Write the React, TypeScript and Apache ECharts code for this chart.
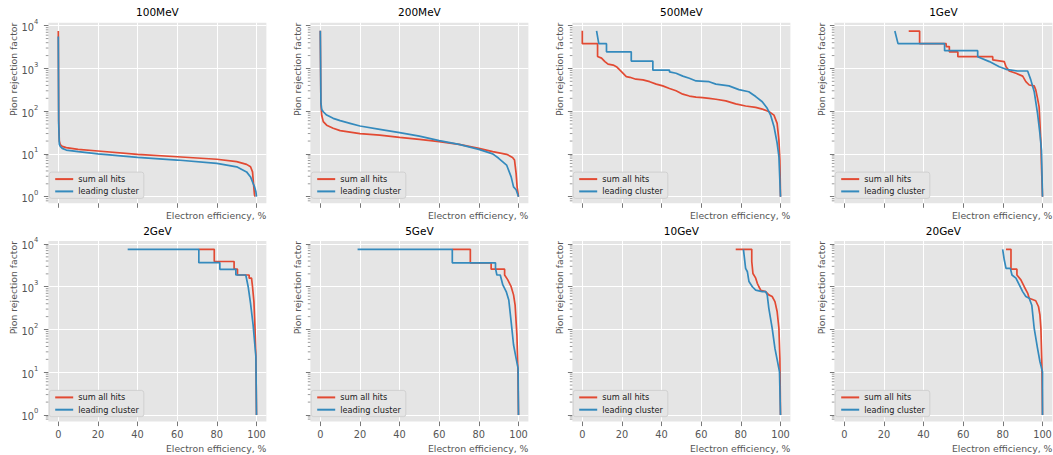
import React, { useEffect, useRef } from "react";
import * as echarts from "echarts";

// ---------- data ----------
const panelTitles = ["100MeV", "200MeV", "500MeV", "1GeV", "2GeV", "5GeV", "10GeV", "20GeV"];
const seriesNames = ["sum all hits", "leading cluster"];
const xTickValues = [0, 20, 40, 60, 80, 100];
const yTickExponents = [0, 1, 2, 3, 4];
const xAxisName = "Electron efficiency, %";
const yAxisName = "Pion rejection factor";

// [electron efficiency %, pion rejection factor]
const sum100MeV = [[0, 7500], [0.2, 60], [0.5, 20], [1, 16.5], [2, 15], [4, 14], [10, 12.8], [20, 11.7], [40, 9.8], [60, 8.6], [80, 7.5], [90, 6.6], [95, 5.7], [97, 5.0], [98, 3.8], [98.5, 2.0], [99, 1.1], [99.2, 1.0]];
const lead100MeV = [[0, 5600], [0.2, 50], [0.5, 17], [1, 15], [2, 13.5], [4, 12.3], [10, 11.3], [20, 10], [40, 8.3], [60, 7.2], [80, 6.0], [90, 5.0], [95, 3.8], [97, 2.9], [98, 2.2], [99, 1.7], [99.7, 1.3], [100, 1.0]];

const sum200MeV = [[0, 7600], [0.3, 150], [0.7, 80], [1.5, 57], [3.2, 47], [6.5, 40], [10, 35], [20, 30], [30, 27.5], [40, 24.5], [50, 22], [60, 19.4], [70, 16.7], [80, 13.5], [87, 11.3], [94, 9.8], [97, 8.3], [98, 7.2], [98.8, 3.5], [99.3, 1.7], [100, 1.0]];
const lead200MeV = [[0, 7600], [0.3, 160], [0.7, 110], [1.5, 97], [3.2, 81], [6.5, 68], [10, 60], [15, 52], [20, 45], [30, 37.6], [40, 31.5], [50, 26], [60, 20.4], [70, 16.7], [80, 12.8], [87, 10], [90, 7.9], [94, 5.5], [96.3, 2.9], [97.5, 1.7], [98.8, 1.45], [100, 1.0]];

const sum500MeV = [[0, 7600], [0, 3800], [7.7, 3800], [7.7, 1900], [9.7, 1740], [11.4, 1440], [13, 1260], [15.6, 1200], [17.2, 1100], [19, 910], [20.6, 770], [22.2, 645], [24, 620], [27, 560], [30.6, 540], [34, 490], [37.3, 430], [40.6, 390], [44, 340], [47.3, 300], [50.7, 250], [54, 226], [57.4, 214], [60.7, 207], [64, 200], [67.4, 190], [72.4, 174], [77.4, 148], [82.4, 132], [87.5, 123], [90.8, 112], [94.1, 98], [96.7, 81], [98.3, 52], [99.2, 21], [99.7, 7.2], [100, 1.0]];
const lead500MeV = [[7.2, 7600], [8.3, 3800], [12.2, 3800], [12.2, 2450], [24.7, 2450], [24.7, 1490], [35.6, 1490], [35.6, 910], [44, 910], [44, 830], [47.3, 770], [50.7, 660], [54, 590], [57.4, 510], [64, 490], [67.4, 430], [74, 390], [79, 320], [84, 285], [87.5, 220], [90.8, 166], [93.3, 117], [95, 81], [96.7, 44], [98.3, 18], [99.2, 8.7], [100, 1.0]];

const sum1GeV = [[32.5, 7500], [38, 7500], [38, 3800], [51.4, 3800], [51.4, 3240], [53, 3240], [53, 2450], [57.3, 2450], [57.3, 1880], [74.9, 1880], [74.9, 1580], [80.7, 1445], [81.6, 1100], [83.2, 870], [86.6, 770], [90, 660], [91.6, 490], [93.3, 410], [95.8, 390], [96.6, 316], [97.5, 200], [98.3, 126], [99.2, 18], [99.5, 5], [100, 1.0]];
const lead1GeV = [[25.5, 7500], [27.1, 3800], [50.6, 3800], [50.6, 2600], [67.3, 2600], [67.3, 1880], [73.2, 1445], [78.2, 1100], [81.6, 955], [87.4, 870], [92.5, 870], [94.1, 540], [95.8, 290], [97.5, 89], [98.7, 30], [99.5, 12], [100, 1.0]];

const sum2GeV = [[70.9, 7500], [78.7, 7500], [78.7, 3890], [88.7, 3890], [88.7, 2570], [90.4, 2570], [90.4, 1880], [96.3, 1880], [96.3, 1585], [97.5, 1585], [98, 1000], [98.7, 450], [99.2, 126], [99.7, 25], [100, 1.0]];
const lead2GeV = [[35, 7500], [70.9, 7500], [70.9, 3650], [81.5, 3650], [81.5, 2560], [89.6, 2560], [89.6, 1880], [94.6, 1880], [95.8, 1000], [97, 410], [98.3, 126], [99.7, 23], [100, 1.0]];

const sum5GeV = [[66.6, 7500], [75.7, 7500], [75.7, 3630], [86.2, 3630], [86.2, 2570], [93, 2570], [93, 1880], [94.6, 1445], [96.3, 1000], [97.5, 645], [98.3, 370], [99.2, 74], [99.7, 12.3], [100, 1.0]];
const lead5GeV = [[18.8, 7500], [66.6, 7500], [66.6, 3630], [88.4, 3630], [88.4, 2690], [89.1, 1880], [90.8, 1880], [92.1, 1100], [93.8, 770], [95.1, 490], [96.3, 150], [97.5, 44], [98.8, 21], [99.8, 12.3], [100, 1.0]];

const sum10GeV = [[77.4, 7500], [85.5, 7500], [85.5, 3890], [86.1, 2040], [87.5, 1585], [88.3, 1200], [89.1, 1000], [90, 830], [92.5, 770], [94.1, 645], [95.8, 590], [97.2, 450], [98.3, 263], [99.2, 107], [99.7, 21], [100, 1.0]];
const lead10GeV = [[81.3, 7500], [82.4, 2690], [83.3, 2240], [84.1, 1320], [85.8, 1000], [87.5, 830], [90.8, 770], [92.5, 770], [93.3, 645], [94.1, 316], [95.8, 107], [97.2, 36], [98.8, 15], [99.5, 10.2], [100, 1.0]];

const sum20GeV = [[81.6, 7500], [84.1, 7500], [84.1, 2570], [87.1, 2570], [87.1, 1880], [89.1, 1445], [90.8, 1000], [92.5, 710], [93.3, 540], [96.6, 470], [98, 340], [98.7, 220], [99.2, 107], [99.7, 14.8], [100, 1.0]];
const lead20GeV = [[79.9, 7500], [80.7, 4270], [81.6, 2690], [83.8, 2690], [84.6, 1880], [86.6, 1585], [88.3, 1100], [90, 770], [91.6, 590], [93.3, 540], [94.6, 370], [95.8, 107], [97.5, 36], [98.7, 17.8], [100, 10.2], [100, 1.0]];

const sumSeries = [sum100MeV, sum200MeV, sum500MeV, sum1GeV, sum2GeV, sum5GeV, sum10GeV, sum20GeV];
const leadSeries = [lead100MeV, lead200MeV, lead500MeV, lead1GeV, lead2GeV, lead5GeV, lead10GeV, lead20GeV];

// ---------- layout / style ----------
const COL_LEFT = [48.4, 310.4, 572.4, 834.4];
const ROW_TOP = [22.7, 241.0];
const PW = 218;
const PH = 180.6;
const X_MIN = -5;
const X_MAX = 105;
const Y_MIN = -0.155; // log10 units
const Y_MAX = 4.07;
const RED = "#E24A33";
const BLUE = "#348ABD";
const FONT = "DejaVu Sans";
const TICK_COLOR = "#555555";

function buildOption() {
  const grid: any[] = [];
  const xAxis: any[] = [];
  const yAxis: any[] = [];
  const series: any[] = [];
  const legend: any[] = [];
  const graphic: any[] = [];

  const minorVals: number[][] = [];
  for (let n = -1; n <= 3; n++) {
    for (let k = 2; k <= 9; k++) {
      const v = n + Math.log10(k);
      if (v > Y_MIN + 0.005 && v < Y_MAX) minorVals.push([X_MIN, v]);
    }
  }

  for (let i = 0; i < 8; i++) {
    const col = i % 4;
    const row = Math.floor(i / 4);
    const left = COL_LEFT[col];
    const top = ROW_TOP[row];
    grid.push({
      left,
      top,
      width: PW,
      height: PH,
      show: true,
      backgroundColor: "#E5E5E5",
      borderWidth: 0,
      containLabel: false,
      outerBoundsMode: "none",
    });
    xAxis.push({
      gridIndex: i,
      type: "value",
      min: X_MIN,
      max: X_MAX,
      axisLine: { show: false, onZero: false },
      axisTick: { show: true, customValues: xTickValues, length: 4.5, lineStyle: { color: TICK_COLOR, width: 0.8 } },
      axisLabel: {
        show: row === 1,
        customValues: xTickValues,
        color: TICK_COLOR,
        fontSize: 9.8,
        fontFamily: FONT,
        margin: 8,
      },
      splitLine: { show: true, lineStyle: { color: "#FFFFFF", width: 1 } },
      name: xAxisName,
      nameLocation: "end",
      nameGap: 0,
      nameMoveOverlap: false,
      nameTextStyle: {
        align: "right",
        verticalAlign: "top",
        fontSize: 9.3,
        fontFamily: FONT,
        color: TICK_COLOR,
        padding: [row === 0 ? 8 : 22, 0, 0, 0],
      },
    });
    yAxis.push({
      gridIndex: i,
      type: "value",
      min: Y_MIN,
      max: Y_MAX,
      axisLine: { show: false, onZero: false },
      axisTick: { show: true, customValues: yTickExponents, length: 4.5, lineStyle: { color: TICK_COLOR, width: 0.8 } },
      axisLabel: {
        show: col === 0,
        customValues: yTickExponents,
        margin: 10,
        formatter: (v: number) => `{b|10}{s|${Math.round(v)}}`,
        rich: {
          b: { fontSize: 9.8, fontFamily: FONT, color: TICK_COLOR, lineHeight: 14, verticalAlign: "bottom" },
          s: { fontSize: 6.8, fontFamily: FONT, color: TICK_COLOR, verticalAlign: "top", lineHeight: 8 },
        },
      },
      splitLine: { show: true, lineStyle: { color: "#FFFFFF", width: 1 } },
      name: yAxisName,
      nameLocation: "end",
      nameRotate: 90,
      nameGap: 0,
      nameMoveOverlap: false,
      nameTextStyle: {
        align: "right",
        verticalAlign: "bottom",
        fontSize: 9.3,
        fontFamily: FONT,
        color: TICK_COLOR,
        padding: [0, 0, col === 0 ? 30 : 8, 0],
      },
    });
    const mk = (name: string, color: string, pts: number[][], z: number) => ({
      name,
      type: "line",
      xAxisIndex: i,
      yAxisIndex: i,
      data: pts.map(([x, r]) => [x, Math.log10(r)]),
      symbol: "none",
      showSymbol: false,
      color,
      lineStyle: { color, width: 1.7 },
      itemStyle: { color },
      z,
      clip: true,
      silent: true,
    });
    series.push(mk(seriesNames[0], RED, sumSeries[i], 3));
    series.push(mk(seriesNames[1], BLUE, leadSeries[i], 4));
    series.push({
      type: "custom",
      name: "minor-ticks-" + i,
      xAxisIndex: i,
      yAxisIndex: i,
      clip: false,
      silent: true,
      data: minorVals,
      renderItem: (params: any, api: any) => {
        const p = api.coord([api.value(0), api.value(1)]);
        return {
          type: "line",
          shape: { x1: p[0] - 2.6, y1: p[1], x2: p[0], y2: p[1] },
          style: { stroke: TICK_COLOR, lineWidth: 0.6 },
        };
      },
    });
    legend.push({
      data: seriesNames.map((n) => ({ name: n, icon: "rect" })),
      orient: "vertical",
      left: left + 0.8,
      top: top + PH - 31.2,
      itemWidth: 18,
      itemHeight: 2,
      itemGap: 2.3,
      padding: [2, 5, 2, 6],
      backgroundColor: "#E5E5E5",
      borderColor: "#CCCCCC",
      borderWidth: 0.8,
      borderRadius: 2.5,
      selectedMode: false,
      textStyle: { fontSize: 8.2, fontFamily: FONT, color: "#222222", lineHeight: 10 },
    });
    graphic.push({
      type: "text",
      x: left + PW / 2,
      y: row === 0 ? 12.3 : 231.2,
      style: {
        text: panelTitles[i],
        align: "center",
        verticalAlign: "middle",
        fontSize: 10.5,
        fontFamily: FONT,
        fill: "#000000",
      },
    });
  }

  return {
    animation: false,
    backgroundColor: "#FFFFFF",
    textStyle: { fontFamily: FONT },
    grid,
    xAxis,
    yAxis,
    series,
    legend,
    graphic,
  };
}

export default function App() {
  const ref = useRef<HTMLDivElement>(null);
  useEffect(() => {
    if (!ref.current) return;
    const chart = echarts.init(ref.current, null, { renderer: "svg" });
    chart.setOption(buildOption() as any);
    return () => chart.dispose();
  }, []);
  return (
    <div
      ref={ref}
      style={{ position: "fixed", left: 0, top: 0, width: 1053, height: 455, background: "#fff" }}
    />
  );
}
